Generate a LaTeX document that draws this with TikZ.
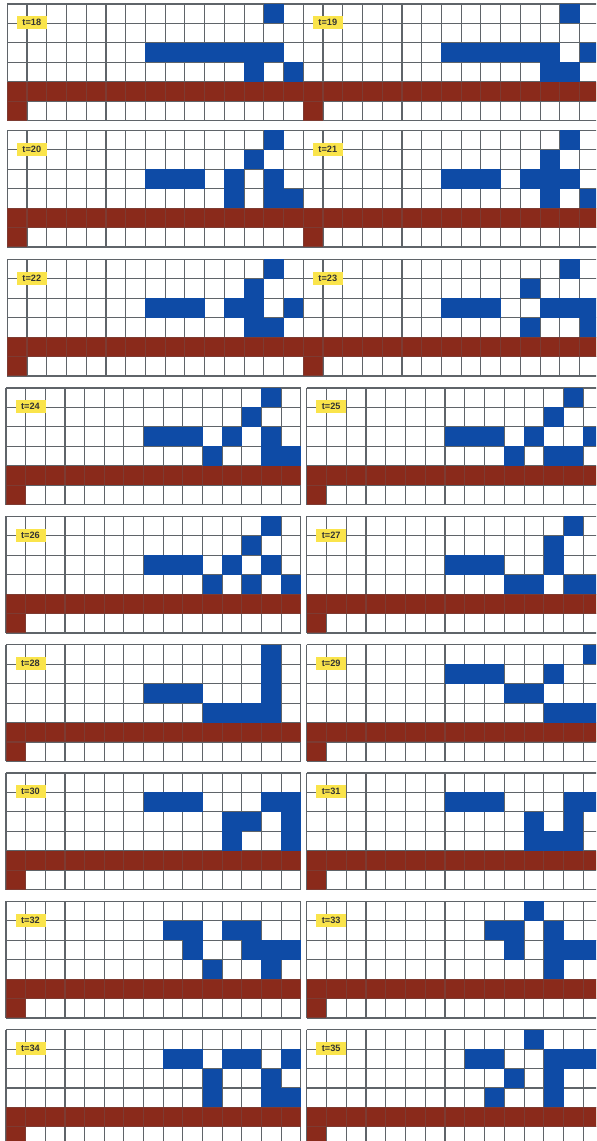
\documentclass[tikz,border=0pt]{standalone}
\usepackage{fontspec}
\setmainfont{Liberation Sans}
\definecolor{cellblue}{RGB}{14,75,166}
\definecolor{brick}{RGB}{138,42,27}
\definecolor{gridc}{RGB}{95,100,105}
\definecolor{tagyellow}{RGB}{250,228,75}
\tikzset{
  gridline/.style={draw=gridc, line width=0.55pt},
  tlabel/.style={fill=tagyellow, inner sep=0pt, minimum width=15pt, minimum height=6.5pt,
    font=\fontsize{4.6}{5}\selectfont\bfseries, text=black!80},
  bluecell/.style={fill=cellblue},
  brickcell/.style={fill=brick},
  brickover/.style={fill=brick, fill opacity=0.7},
}
\def\rh{19.45}
\newcommand\gpanel[6]{%
  \begin{scope}[shift={(#1,#2)}]
    \def\cw{#3}
    \fill[brickcell] (0,{4*\rh}) rectangle ({15*\cw},{5*\rh});
    \fill[brickcell] (0,{5*\rh}) rectangle (\cw,{6*\rh});
    \foreach \i in {0,...,15} {\draw[gridline] ({\i*\cw},0) -- ({\i*\cw},{6*\rh});}
    \foreach \j in {0,...,6} {\draw[gridline] (0,{\j*\rh}) -- ({15*\cw},{\j*\rh});}
    \fill[brickover] (0,{4*\rh}) rectangle ({15*\cw},{5*\rh});
    \fill[brickover] (0,{5*\rh}) rectangle (\cw,{6*\rh});
    \foreach \r/\c in {#5} {\fill[bluecell] ({(\c-1)*\cw},{(\r-1)*\rh}) rectangle ({\c*\cw},{\r*\rh});}
    \node[tlabel] (#6) at (24.5,18.8) {#4};
  \end{scope}}
\begin{document}
\begin{tikzpicture}[x=0.5pt,y=-0.5pt]
\useasboundingbox (0,0) rectangle (596,1141);
\fill[white] (0,0) rectangle (596,1141);
\clip (0,0) rectangle (596,1141);
% row 1
\gpanel{7.3}{4}{19.73}{t=18}{1/14,3/8,3/9,3/10,3/11,3/12,3/13,3/14,4/13,4/15}{l18}
\gpanel{303.3}{4}{19.73}{t=19}{1/14,3/8,3/9,3/10,3/11,3/12,3/13,3/15,4/13,4/14}{l19}
% row 2
\gpanel{7.3}{130.3}{19.73}{t=20}{1/14,2/13,3/8,3/9,3/10,3/12,3/14,4/12,4/14,4/15}{l20}
\gpanel{303.3}{130.3}{19.73}{t=21}{1/14,2/13,3/8,3/9,3/10,3/12,3/13,3/14,4/13,4/15}{l21}
% row 3
\gpanel{7.3}{259.3}{19.73}{t=22}{1/14,2/13,3/8,3/9,3/10,3/12,3/13,3/15,4/13,4/14}{l22}
\gpanel{303.3}{259.3}{19.73}{t=23}{1/14,2/12,3/8,3/9,3/10,3/13,3/14,3/15,4/12,4/15}{l23}
% row 4
\gpanel{6}{388}{19.65}{t=24}{1/14,2/13,3/8,3/9,3/10,3/12,3/14,4/11,4/14,4/15}{l24}
\gpanel{306.7}{388}{19.76}{t=25}{1/14,2/13,3/8,3/9,3/10,3/12,3/15,4/11,4/13,4/14}{l25}
% row 5
\gpanel{6}{516.3}{19.65}{t=26}{1/14,2/13,3/8,3/9,3/10,3/12,3/14,4/11,4/13,4/15}{l26}
\gpanel{306.7}{516.3}{19.76}{t=27}{1/14,2/13,3/8,3/9,3/10,3/13,4/11,4/12,4/14,4/15}{l27}
% row 6
\gpanel{6}{644.7}{19.65}{t=28}{1/14,2/14,3/14,4/14,3/8,3/9,3/10,4/11,4/12,4/13}{l28}
\gpanel{306.7}{644.7}{19.76}{t=29}{1/15,2/8,2/9,2/10,2/13,3/11,3/12,4/13,4/14,4/15}{l29}
% row 7
\gpanel{6}{773}{19.65}{t=30}{2/8,2/9,2/10,2/14,2/15,3/12,3/13,3/15,4/12,4/15}{l30}
\gpanel{306.7}{773}{19.76}{t=31}{2/8,2/9,2/10,2/14,2/15,3/12,3/14,4/12,4/13,4/14}{l31}
% row 8
\gpanel{6}{901.3}{19.65}{t=32}{2/9,2/10,2/12,2/13,3/10,3/13,3/14,3/15,4/11,4/14}{l32}
\gpanel{306.7}{901.3}{19.76}{t=33}{1/12,2/10,2/11,2/13,3/11,3/13,3/14,3/15,4/13}{l33}
% row 9
\gpanel{6}{1029.6}{19.65}{t=34}{2/9,2/10,2/12,2/13,2/15,3/11,3/14,4/11,4/14,4/15}{l34}
\gpanel{306.7}{1029.6}{19.76}{t=35}{1/12,2/9,2/10,2/13,2/14,2/15,3/11,3/13,4/10,4/13}{l35}
\end{tikzpicture}
\end{document}
